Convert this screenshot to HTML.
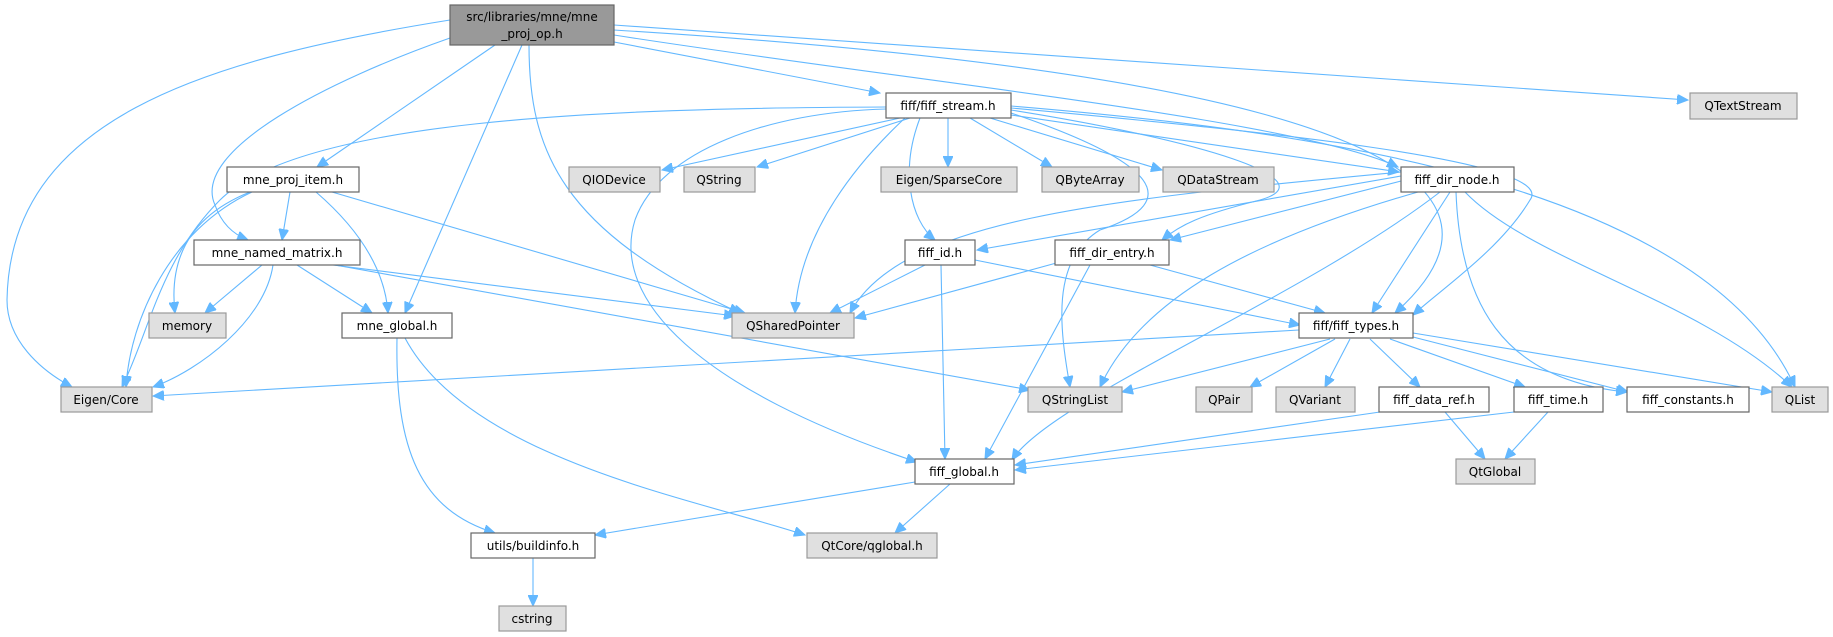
<!DOCTYPE html>
<html><head><meta charset="utf-8"><style>
html,body{margin:0;padding:0;background:#fff;}
svg{display:block;}
text{font-family:"DejaVu Sans","Liberation Sans",sans-serif;font-size:12px;fill:#000;}
.w{fill:#fff;stroke:#666;stroke-width:1.2}
.g{fill:#e0e0e0;stroke:#999;stroke-width:1.2}
.e path{fill:none;stroke:#63b8ff;stroke-width:1.1;marker-end:url(#a)}
</style></head><body>
<svg width="1833" height="637" viewBox="0 0 1833 637" xmlns="http://www.w3.org/2000/svg">
<defs><marker id="a" markerUnits="userSpaceOnUse" markerWidth="12" markerHeight="10" refX="11" refY="5" orient="auto"><path d="M0,0 L11,5 L0,10 z" fill="#63b8ff" stroke="#63b8ff"/></marker></defs>
<g class="e">
<path d="M450,20 C200,60 10,120 7,300 C7,340 40,370 72,387"/>
<path d="M450,38 C330,80 190,150 215,205 C222,225 235,235 248,240"/>
<path d="M495,45 L317,167"/>
<path d="M522,45 L405,313"/>
<path d="M529,45 C529,150 560,230 740,313"/>
<path d="M614,42 L880,93"/>
<path d="M614,35 C900,80 1300,120 1398,167"/>
<path d="M614,30 C1100,60 1600,130 1395,313"/>
<path d="M614,25 L1688,100"/>
<path d="M886,107 C600,108 300,120 220,200 C160,260 150,330 122,387"/>
<path d="M886,109 C770,112 660,150 635,220 C610,300 700,390 917,462"/>
<path d="M905,118 C860,160 800,230 795,313"/>
<path d="M900,118 L662,170"/>
<path d="M910,118 L757,167"/>
<path d="M948,118 L948,167"/>
<path d="M970,118 L1052,167"/>
<path d="M990,118 L1162,170"/>
<path d="M920,118 C900,170 910,220 935,240"/>
<path d="M1011,115 L1399,172"/>
<path d="M1011,110 C1200,140 1330,180 1260,200 C1200,215 1180,225 1162,240"/>
<path d="M1011,108 C1250,130 1560,160 1530,200 C1500,250 1440,290 1413,315"/>
<path d="M1011,113 C1150,160 1190,200 1100,230 C1050,260 1060,330 1070,387"/>
<path d="M1011,106 C1300,130 1700,180 1795,387"/>
<path d="M290,192 L282,240"/>
<path d="M316,192 C360,230 385,270 388,313"/>
<path d="M332,192 L745,313"/>
<path d="M252,192 C170,230 130,320 126,387"/>
<path d="M250,192 C180,220 170,270 175,313"/>
<path d="M262,265 L205,313"/>
<path d="M273,265 C265,320 200,370 153,387"/>
<path d="M297,265 L372,313"/>
<path d="M333,265 L735,316"/>
<path d="M335,265 L1030,390"/>
<path d="M397,338 C395,450 420,510 495,533"/>
<path d="M405,338 C470,460 700,500 805,535"/>
<path d="M1401,172 C1100,200 900,220 850,313"/>
<path d="M1401,176 L977,250"/>
<path d="M1405,180 L1170,240"/>
<path d="M1450,192 L1372,313"/>
<path d="M1418,192 C1250,240 1140,300 1100,387"/>
<path d="M1440,192 C1300,300 1050,400 1012,460"/>
<path d="M1456,192 C1460,300 1500,380 1627,392"/>
<path d="M1465,192 C1530,260 1700,300 1792,387"/>
<path d="M925,265 L830,313"/>
<path d="M941,265 L945,459"/>
<path d="M975,260 L1300,325"/>
<path d="M1060,262 L855,318"/>
<path d="M1090,265 L985,459"/>
<path d="M1150,265 L1325,313"/>
<path d="M1299,330 L153,396"/>
<path d="M1330,339 L1122,392"/>
<path d="M1335,339 L1250,387"/>
<path d="M1350,339 L1325,387"/>
<path d="M1370,339 L1420,387"/>
<path d="M1390,339 L1525,387"/>
<path d="M1413,337 L1628,392"/>
<path d="M1413,333 L1772,392"/>
<path d="M1380,412 L1015,465"/>
<path d="M1445,412 L1485,459"/>
<path d="M1514,412 L1015,470"/>
<path d="M1548,412 L1505,459"/>
<path d="M915,482 L595,535"/>
<path d="M950,484 L895,533"/>
<path d="M533,558 L533,606"/>
</g>
<rect x="450" y="5" width="164" height="40" fill="#999" stroke="#666" stroke-width="1.2"/>
<text x="532" y="21" text-anchor="middle">src/libraries/mne/mne</text>
<text x="532" y="38" text-anchor="middle">_proj_op.h</text>
<g text-anchor="middle">
<rect class="w" x="886" y="93" width="125" height="25"/><text x="948" y="110">fiff/fiff_stream.h</text>
<rect class="g" x="1690" y="93" width="107" height="26"/><text x="1743" y="110">QTextStream</text>
<rect class="w" x="227" y="167" width="132" height="25"/><text x="293" y="184">mne_proj_item.h</text>
<rect class="g" x="569" y="167" width="91" height="25"/><text x="614" y="184">QIODevice</text>
<rect class="g" x="684" y="167" width="71" height="25"/><text x="719" y="184">QString</text>
<rect class="g" x="881" y="167" width="136" height="25"/><text x="949" y="184">Eigen/SparseCore</text>
<rect class="g" x="1042" y="167" width="97" height="25"/><text x="1090" y="184">QByteArray</text>
<rect class="g" x="1163" y="167" width="111" height="25"/><text x="1218" y="184">QDataStream</text>
<rect class="w" x="1401" y="167" width="113" height="25"/><text x="1457" y="184">fiff_dir_node.h</text>
<rect class="w" x="194" y="240" width="166" height="25"/><text x="277" y="257">mne_named_matrix.h</text>
<rect class="w" x="905" y="240" width="70" height="25"/><text x="940" y="257">fiff_id.h</text>
<rect class="w" x="1055" y="240" width="114" height="25"/><text x="1112" y="257">fiff_dir_entry.h</text>
<rect class="g" x="149" y="313" width="77" height="25"/><text x="187" y="330">memory</text>
<rect class="w" x="342" y="313" width="110" height="25"/><text x="397" y="330">mne_global.h</text>
<rect class="g" x="732" y="313" width="122" height="25"/><text x="793" y="330">QSharedPointer</text>
<rect class="w" x="1299" y="313" width="114" height="25"/><text x="1356" y="330">fiff/fiff_types.h</text>
<rect class="g" x="61" y="387" width="91" height="25"/><text x="106" y="404">Eigen/Core</text>
<rect class="g" x="1028" y="387" width="94" height="25"/><text x="1075" y="404">QStringList</text>
<rect class="g" x="1196" y="387" width="56" height="25"/><text x="1224" y="404">QPair</text>
<rect class="g" x="1276" y="387" width="79" height="25"/><text x="1315" y="404">QVariant</text>
<rect class="w" x="1379" y="387" width="110" height="25"/><text x="1434" y="404">fiff_data_ref.h</text>
<rect class="w" x="1514" y="387" width="89" height="25"/><text x="1558" y="404">fiff_time.h</text>
<rect class="w" x="1627" y="387" width="122" height="25"/><text x="1688" y="404">fiff_constants.h</text>
<rect class="g" x="1772" y="387" width="56" height="25"/><text x="1800" y="404">QList</text>
<rect class="w" x="915" y="459" width="99" height="25"/><text x="964" y="476">fiff_global.h</text>
<rect class="g" x="1456" y="459" width="79" height="25"/><text x="1495" y="476">QtGlobal</text>
<rect class="w" x="471" y="533" width="124" height="25"/><text x="533" y="550">utils/buildinfo.h</text>
<rect class="g" x="807" y="533" width="130" height="25"/><text x="872" y="550">QtCore/qglobal.h</text>
<rect class="g" x="499" y="606" width="67" height="25"/><text x="532" y="623">cstring</text>
</g>
</svg>
</body></html>
